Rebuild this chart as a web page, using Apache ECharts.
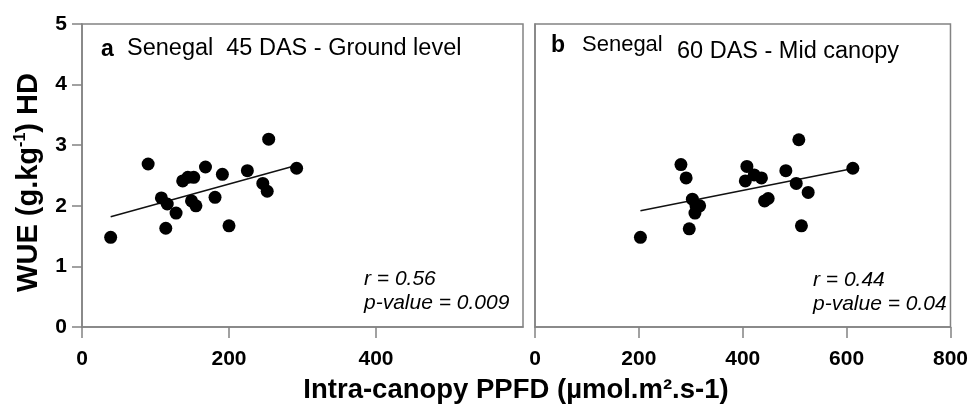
<!DOCTYPE html>
<html>
<head>
<meta charset="utf-8">
<script src="https://cdn.jsdelivr.net/npm/echarts@6/dist/echarts.min.js"></script>
<style>
html,body{margin:0;padding:0;background:#fff;}
#chart{width:971px;height:408px;}
</style>
</head>
<body>
<div id="chart"></div>
<script>
// Panel a: Senegal 45 DAS - Ground level
const leftX = [39, 90, 108, 116, 114, 128, 137, 144, 152, 149, 155, 168, 181, 191, 200, 225, 246, 252, 254, 292];
const leftY = [1.48, 2.69, 2.13, 2.03, 1.63, 1.88, 2.41, 2.47, 2.47, 2.08, 2.00, 2.64, 2.14, 2.52, 1.67, 2.58, 2.37, 2.24, 3.10, 2.62];
const leftTrendX = [39, 290];
const leftTrendY = [1.82, 2.66];
// Panel b: Senegal 60 DAS - Mid canopy
const rightX = [203, 281, 291, 303, 310, 317, 308, 297, 408, 405, 422, 436, 442, 449, 483, 508, 503, 526, 513, 612];
const rightY = [1.48, 2.68, 2.46, 2.11, 2.00, 2.00, 1.88, 1.62, 2.65, 2.41, 2.51, 2.46, 2.08, 2.12, 2.58, 3.09, 2.37, 2.22, 1.67, 2.62];
const rightTrendX = [203, 610];
const rightTrendY = [1.92, 2.61];
// Tick labels
const yTicks = [0, 1, 2, 3, 4, 5];
const leftXTicks = [0, 200, 400];
const rightXTicks = [0, 200, 400, 600, 800];

const FONT = "'Liberation Sans', Arial, Helvetica, sans-serif";
const GRAY = '#838383';
const zip = (xs, ys) => xs.map((x, i) => [x, ys[i]]);

const chart = echarts.init(document.getElementById('chart'), null, {renderer: 'canvas'});

const baseAxisLine = {show: true, lineStyle: {color: GRAY, width: 1.5}};
const tickLabel = {color: '#000', fontFamily: FONT, fontWeight: 'bold', fontSize: 21};

const option = {
  animation: false,
  backgroundColor: '#fff',
  grid: [
    {left: 82, top: 24, width: 441, height: 303, show: true, borderColor: GRAY, borderWidth: 1.5, containLabel: false},
    {left: 535, top: 24, width: 417, height: 303, show: true, borderColor: GRAY, borderWidth: 1.5, containLabel: false}
  ],
  xAxis: [
    {
      gridIndex: 0, type: 'value', min: 0, max: 600, interval: 200,
      axisLine: baseAxisLine,
      axisTick: {show: true, length: 11, lineStyle: {color: GRAY, width: 1.5}, customValues: leftXTicks},
      axisLabel: Object.assign({customValues: leftXTicks, margin: 22}, tickLabel),
      splitLine: {show: false}
    },
    {
      gridIndex: 1, type: 'value', min: 0, max: 800, interval: 200,
      axisLine: baseAxisLine,
      axisTick: {show: true, length: 11, lineStyle: {color: GRAY, width: 1.5}, customValues: rightXTicks},
      axisLabel: Object.assign({customValues: rightXTicks, margin: 22}, tickLabel),
      splitLine: {show: false}
    }
  ],
  yAxis: [
    {
      gridIndex: 0, type: 'value', min: 0, max: 5, interval: 1,
      axisLine: baseAxisLine,
      axisTick: {show: true, length: 10, lineStyle: {color: GRAY, width: 1.5}, customValues: yTicks},
      axisLabel: Object.assign({customValues: yTicks, margin: 15}, tickLabel),
      splitLine: {show: false},
      name: '{n|WUE (g.kg}{s|-1}{n|) HD}',
      nameLocation: 'middle',
      nameGap: 37,
      nameRotate: 90,
      nameTextStyle: {
        padding: [0, 14, 0, 0],
        rich: {
          n: {fontFamily: FONT, fontWeight: 'bold', fontSize: 29, color: '#000', lineHeight: 32},
          s: {fontFamily: FONT, fontWeight: 'bold', fontSize: 16, color: '#000', lineHeight: 16, verticalAlign: 'top'}
        }
      }
    },
    {
      gridIndex: 1, type: 'value', min: 0, max: 5, interval: 1,
      axisLine: baseAxisLine,
      axisTick: {show: false},
      axisLabel: {show: false},
      splitLine: {show: false}
    }
  ],
  series: [
    {
      type: 'line', xAxisIndex: 0, yAxisIndex: 0, data: zip(leftTrendX, leftTrendY),
      symbol: 'none', lineStyle: {color: '#111', width: 1.5}, z: 2, silent: true
    },
    {
      type: 'scatter', xAxisIndex: 0, yAxisIndex: 0, data: zip(leftX, leftY),
      symbol: 'circle', symbolSize: 13, itemStyle: {color: '#000', opacity: 1}, z: 3
    },
    {
      type: 'line', xAxisIndex: 1, yAxisIndex: 1, data: zip(rightTrendX, rightTrendY),
      symbol: 'none', lineStyle: {color: '#111', width: 1.5}, z: 2, silent: true
    },
    {
      type: 'scatter', xAxisIndex: 1, yAxisIndex: 1, data: zip(rightX, rightY),
      symbol: 'circle', symbolSize: 13, itemStyle: {color: '#000', opacity: 1}, z: 3
    }
  ],
  graphic: [
    {type: 'text', left: 101, top: 38, style: {text: 'a', font: "bold 23px " + FONT, fill: '#000'}},
    {type: 'text', left: 127, top: 37, style: {text: 'Senegal  45 DAS - Ground level', font: "23.5px " + FONT, fill: '#000'}},
    {type: 'text', left: 364, top: 269, style: {text: 'r = 0.56', font: "italic 21px " + FONT, fill: '#000'}},
    {type: 'text', left: 364, top: 293, style: {text: 'p-value = 0.009', font: "italic 21px " + FONT, fill: '#000'}},
    {type: 'text', left: 551, top: 34, style: {text: 'b', font: "bold 23px " + FONT, fill: '#000'}},
    {type: 'text', left: 582, top: 34, style: {text: 'Senegal', font: "22px " + FONT, fill: '#000'}},
    {type: 'text', left: 677, top: 40, style: {text: '60 DAS - Mid canopy', font: "23.5px " + FONT, fill: '#000'}},
    {type: 'text', left: 813, top: 270, style: {text: 'r = 0.44', font: "italic 21px " + FONT, fill: '#000'}},
    {type: 'text', left: 813, top: 294, style: {text: 'p-value = 0.04', font: "italic 21px " + FONT, fill: '#000'}},
    {type: 'text', x: 516, y: 376, style: {text: 'Intra-canopy PPFD (µmol.m².s-1)', font: "bold 27.5px " + FONT, fill: '#000', textAlign: 'center', textVerticalAlign: 'top'}}
  ]
};

chart.setOption(option);
</script>
</body>
</html>
